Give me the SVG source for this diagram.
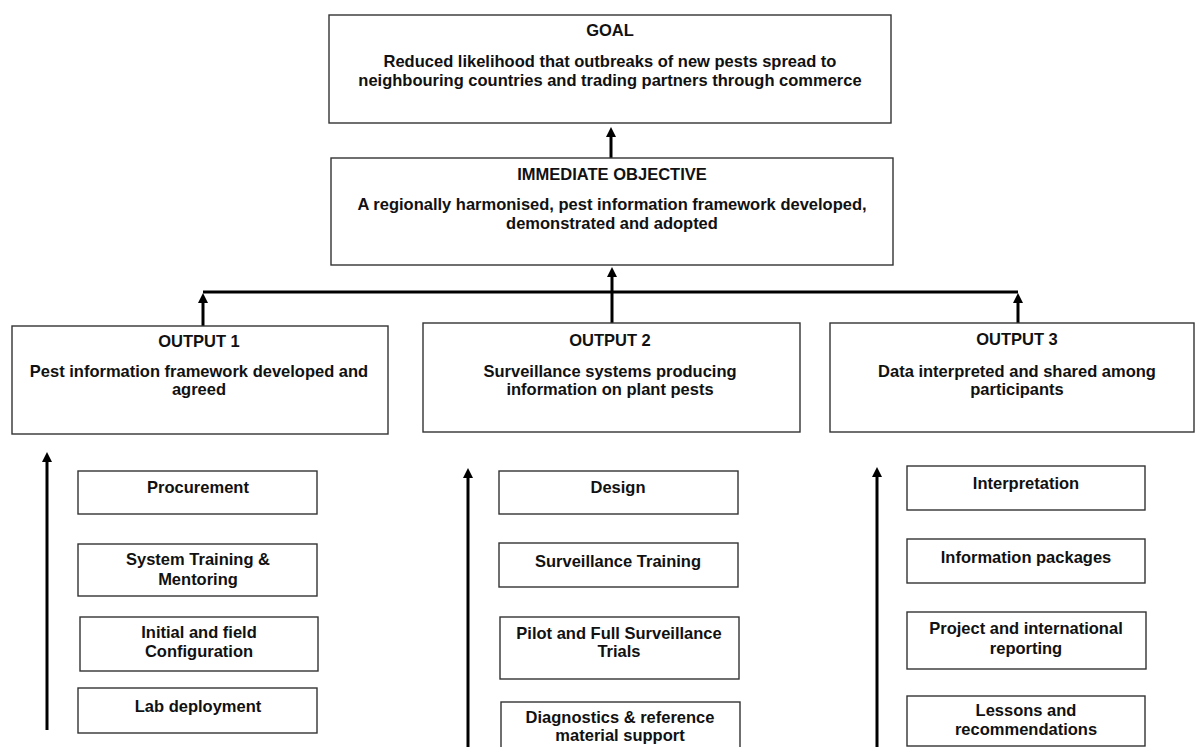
<svg xmlns="http://www.w3.org/2000/svg" width="1195" height="747" viewBox="0 0 1195 747">
<style>
  .box { fill: #ffffff; stroke: #333333; stroke-width: 1.4; }
  .t { font-family: "Liberation Sans", Arial, sans-serif; font-weight: bold; font-size: 16.5px; fill: #111111; text-anchor: middle; }
  .conn { stroke: #000000; stroke-width: 3; fill: none; }
</style>
<defs>
  <marker id="ah" markerUnits="userSpaceOnUse" markerWidth="10" markerHeight="10" refX="0" refY="5" orient="auto">
    <path d="M0,0 L10,5 L0,10 z" fill="#000000"/>
  </marker>
</defs>
<rect width="1195" height="747" fill="#ffffff"/>

<g id="connectors">
  <line class="conn" x1="611" y1="158" x2="611" y2="137" marker-end="url(#ah)"/>
  <line class="conn" x1="612" y1="323" x2="612" y2="277" marker-end="url(#ah)"/>
  <line class="conn" x1="203" y1="292" x2="1018" y2="292"/>
  <line class="conn" x1="203" y1="326" x2="203" y2="303" marker-end="url(#ah)"/>
  <line class="conn" x1="1018" y1="323" x2="1018" y2="303" marker-end="url(#ah)"/>
  <line class="conn" x1="47" y1="730" x2="47" y2="462" marker-end="url(#ah)"/>
  <line class="conn" x1="468" y1="747" x2="468" y2="478" marker-end="url(#ah)"/>
  <line class="conn" x1="877" y1="747" x2="877" y2="477" marker-end="url(#ah)"/>
</g>

<g id="goal">
  <rect class="box" x="329" y="15" width="562" height="108"/>
  <text class="t" x="610" y="36">GOAL</text>
  <text class="t" x="610" y="67">Reduced likelihood that outbreaks of new pests spread to</text>
  <text class="t" x="610" y="86">neighbouring countries and trading partners through commerce</text>
</g>

<g id="immediate-objective">
  <rect class="box" x="331" y="158" width="562" height="107"/>
  <text class="t" x="612" y="180">IMMEDIATE OBJECTIVE</text>
  <text class="t" x="612" y="210">A regionally harmonised, pest information framework developed,</text>
  <text class="t" x="612" y="229">demonstrated and adopted</text>
</g>

<g id="output1">
  <rect class="box" x="12" y="326" width="376" height="108"/>
  <text class="t" x="199" y="347">OUTPUT 1</text>
  <text class="t" x="199" y="377">Pest information framework developed and</text>
  <text class="t" x="199" y="395">agreed</text>
</g>

<g id="output2">
  <rect class="box" x="423" y="323" width="377" height="109"/>
  <text class="t" x="610" y="346">OUTPUT 2</text>
  <text class="t" x="610" y="377">Surveillance systems producing</text>
  <text class="t" x="610" y="395">information on plant pests</text>
</g>

<g id="output3">
  <rect class="box" x="830" y="323" width="364" height="109"/>
  <text class="t" x="1017" y="345">OUTPUT 3</text>
  <text class="t" x="1017" y="377">Data interpreted and shared among</text>
  <text class="t" x="1017" y="395">participants</text>
</g>

<g id="procurement">
  <rect class="box" x="78" y="471" width="239" height="43"/>
  <text class="t" x="198" y="493">Procurement</text>
</g>
<g id="system-training">
  <rect class="box" x="78" y="544" width="239" height="52"/>
  <text class="t" x="198" y="565">System Training &amp;</text>
  <text class="t" x="198" y="585">Mentoring</text>
</g>
<g id="initial-config">
  <rect class="box" x="80" y="617" width="238" height="54"/>
  <text class="t" x="199" y="638">Initial and field</text>
  <text class="t" x="199" y="657">Configuration</text>
</g>
<g id="lab-deployment">
  <rect class="box" x="78" y="688" width="239" height="45"/>
  <text class="t" x="198" y="712">Lab deployment</text>
</g>

<g id="design">
  <rect class="box" x="499" y="471" width="239" height="43"/>
  <text class="t" x="618" y="493">Design</text>
</g>
<g id="surveillance-training">
  <rect class="box" x="499" y="543" width="239" height="44"/>
  <text class="t" x="618" y="567">Surveillance Training</text>
</g>
<g id="pilot-trials">
  <rect class="box" x="500" y="617" width="239" height="62"/>
  <text class="t" x="619" y="639">Pilot and Full Surveillance</text>
  <text class="t" x="619" y="657">Trials</text>
</g>
<g id="diagnostics">
  <rect class="box" x="501" y="702" width="239" height="50"/>
  <text class="t" x="620" y="723">Diagnostics &amp; reference</text>
  <text class="t" x="620" y="741">material support</text>
</g>

<g id="interpretation">
  <rect class="box" x="907" y="466" width="238" height="44"/>
  <text class="t" x="1026" y="489">Interpretation</text>
</g>
<g id="information-packages">
  <rect class="box" x="907" y="539" width="238" height="44"/>
  <text class="t" x="1026" y="563">Information packages</text>
</g>
<g id="reporting">
  <rect class="box" x="907" y="612" width="239" height="57"/>
  <text class="t" x="1026" y="634">Project and international</text>
  <text class="t" x="1026" y="654">reporting</text>
</g>
<g id="lessons">
  <rect class="box" x="907" y="696" width="238" height="50"/>
  <text class="t" x="1026" y="716">Lessons and</text>
  <text class="t" x="1026" y="735">recommendations</text>
</g>
</svg>
